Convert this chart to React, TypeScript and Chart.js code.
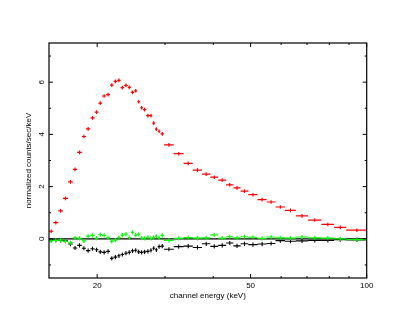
import React, { useEffect, useRef } from "react";
import { Chart, registerables } from "chart.js";

Chart.register(...registerables);

// Bin edges in keV (shared by all three spectra)
const binEdges = [
  15.0, 15.4, 15.85, 16.3, 16.8, 17.3, 17.75, 18.25, 18.7, 19.2, 19.7, 20.15,
  20.6, 21.1, 21.6, 22.05, 22.55, 23.0, 23.5, 24.0, 24.45, 24.95, 25.4, 25.85,
  26.3, 26.8, 27.35, 27.8, 28.25, 28.7, 29.2, 29.8, 31.6, 33.5, 35.4, 37.4,
  39.3, 41.2, 43.2, 45.1, 47.1, 49.3, 52.1, 55.0, 58.0, 61.4, 65.5, 70.4,
  76.3, 82.3, 88.5, 100,
];

const redValues = [
  0.29, 0.62, 1.07, 1.55, 2.18, 2.66, 3.31, 3.92, 4.21, 4.63,
  4.85, 5.2, 5.47, 5.52, 5.89, 6.03, 6.07, 5.79, 5.88, 5.8,
  5.61, 5.67, 5.25, 5.02, 4.95, 4.72, 4.72, 4.43, 4.2, 4.12,
  4.02, 3.6, 3.26, 2.89, 2.63, 2.48, 2.36, 2.25, 2.07, 1.95,
  1.83, 1.69, 1.5, 1.41, 1.22, 1.09, 0.88, 0.72, 0.55, 0.44, 0.33,
];

const blackValues = [
  -0.05, -0.05, -0.06, -0.08, -0.2, -0.35, -0.25, -0.36, -0.45, -0.38,
  -0.42, -0.5, -0.52, -0.48, -0.75, -0.7, -0.65, -0.6, -0.55, -0.52,
  -0.46, -0.44, -0.5, -0.52, -0.5, -0.48, -0.44, -0.36, -0.42, -0.3,
  -0.28, -0.4, -0.3, -0.28, -0.33, -0.19, -0.29, -0.25, -0.16, -0.27,
  -0.19, -0.22, -0.2, -0.18, -0.07, -0.09, -0.08, -0.06, -0.06, -0.03, -0.04,
];

const greenValues = [
  -0.08, -0.06, -0.05, -0.1, -0.15, 0.04, 0.02, -0.08, 0.1, 0.13,
  0.03, 0.16, 0.13, 0.04, -0.1, -0.05, 0.05, 0.14, 0.18, 0.05,
  0.25, 0.14, 0.17, 0.03, 0.02, 0.06, 0.02, 0.05, 0.1, 0.04,
  0.13, -0.06, 0.02, 0.05, 0.03, 0.04, 0.15, 0.03, 0.08, 0.04,
  0.08, 0.06, 0.02, 0.07, 0.04, 0.03, 0.07, 0.04, 0.03, 0.0, -0.03,
];

const redErr = 0.07;
const blackErr = 0.08;
const greenErr = 0.08;

const zeroLineX = [15, 100];
const zeroLineY = [0, 0];

const xMin = 15;
const xMax = 100;
const yMin = -1.5;
const yMax = 7.5;
const xMajorTicks = [20, 50, 100];
const xMinorTicks = [30, 40, 60, 70, 80, 90];
const yTicks = [-1, 0, 1, 2, 3, 4, 5, 6, 7];
const yLabelTicks = [0, 2, 4, 6];

const xTitle = "channel energy (keV)";
const yTitle = "normalized counts/sec/keV";

type Pt = { x: number; y: number | null };

function errorBarPoints(edges: number[], vals: number[], err: number): Pt[] {
  const pts: Pt[] = [];
  vals.forEach((v, i) => {
    const lo = edges[i];
    const hi = edges[i + 1];
    const c = (lo + hi) / 2;
    pts.push({ x: lo, y: v }, { x: hi, y: v }, { x: hi, y: null });
    pts.push({ x: c, y: v - err }, { x: c, y: v + err }, { x: c, y: null });
  });
  return pts;
}

const FONT = '8px "Liberation Sans", Arial, sans-serif';

const framePlugin = {
  id: "xspecFrame",
  afterDatasetsDraw(chart: any) {
    const { ctx, chartArea: a, scales } = chart;
    const xs = scales.x;
    const ys = scales.y;
    ctx.save();
    ctx.strokeStyle = "#000";
    ctx.lineWidth = 1.2;
    ctx.strokeRect(a.left, a.top, a.right - a.left, a.bottom - a.top);

    ctx.lineWidth = 1;
    ctx.beginPath();
    const tickX = (v: number, len: number) => {
      const px = xs.getPixelForValue(v);
      ctx.moveTo(px, a.bottom);
      ctx.lineTo(px, a.bottom - len);
      ctx.moveTo(px, a.top);
      ctx.lineTo(px, a.top + len);
    };
    xMajorTicks.forEach((v) => tickX(v, 4));
    xMinorTicks.forEach((v) => tickX(v, 2));
    yTicks.forEach((v) => {
      const py = ys.getPixelForValue(v);
      const len = yLabelTicks.includes(v) ? 4 : 2;
      ctx.moveTo(a.left, py);
      ctx.lineTo(a.left + len, py);
      ctx.moveTo(a.right, py);
      ctx.lineTo(a.right - len, py);
    });
    ctx.stroke();

    ctx.fillStyle = "#000";
    ctx.font = FONT;
    ctx.textAlign = "center";
    ctx.textBaseline = "middle";
    xMajorTicks.forEach((v) => {
      ctx.fillText(String(v), xs.getPixelForValue(v), a.bottom + 7.5);
    });
    ctx.fillText(xTitle, (a.left + a.right) / 2, a.bottom + 17.5);

    yLabelTicks.forEach((v) => {
      ctx.save();
      ctx.translate(a.left - 7.7, ys.getPixelForValue(v));
      ctx.rotate(-Math.PI / 2);
      ctx.fillText(String(v), 0, 0);
      ctx.restore();
    });
    ctx.save();
    ctx.translate(29, (a.top + a.bottom) / 2);
    ctx.rotate(-Math.PI / 2);
    ctx.fillText(yTitle, 0, 0);
    ctx.restore();
    ctx.restore();
  },
};

export default function App() {
  const canvasRef = useRef<HTMLCanvasElement | null>(null);

  useEffect(() => {
    document.body.style.margin = "0";
    const canvas = canvasRef.current;
    if (!canvas) return;
    const lineDs = (label: string, data: Pt[], color: string, width: number) => ({
      label,
      data,
      borderColor: color,
      backgroundColor: color,
      borderWidth: width,
      showLine: true,
      pointRadius: 0,
      pointHoverRadius: 0,
      spanGaps: false,
      tension: 0,
    });
    const chart = new Chart(canvas, {
      type: "scatter",
      data: {
        datasets: [
          lineDs("red", errorBarPoints(binEdges, redValues, redErr), "#ff0000", 1.2),
          lineDs("green", errorBarPoints(binEdges, greenValues, greenErr), "#00ff00", 1.2),
          lineDs(
            "model",
            zeroLineX.map((x, i) => ({ x, y: zeroLineY[i] })),
            "#000000",
            1.3
          ),
          lineDs("black", errorBarPoints(binEdges, blackValues, blackErr), "#000000", 1.1),
        ],
      },
      options: {
        animation: false,
        responsive: false,
        devicePixelRatio: 1,
        layout: { padding: { left: 49, right: 49.3, top: 43, bottom: 44 } },
        plugins: {
          legend: { display: false },
          tooltip: { enabled: false },
        },
        events: [],
        scales: {
          x: { type: "logarithmic", min: xMin, max: xMax, display: false },
          y: { type: "linear", min: yMin, max: yMax, display: false },
        },
      },
      plugins: [framePlugin],
    });
    return () => chart.destroy();
  }, []);

  return (
    <div style={{ width: 416, height: 322, background: "#fff" }}>
      <canvas ref={canvasRef} width={416} height={322} style={{ display: "block" }} />
    </div>
  );
}
